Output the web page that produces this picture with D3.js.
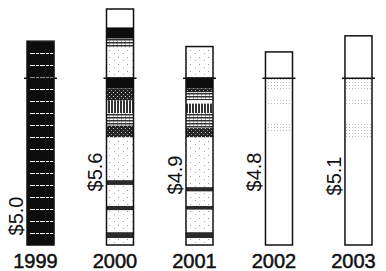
<!DOCTYPE html>
<html>
<head>
<meta charset="utf-8">
<script src="https://cdn.jsdelivr.net/npm/d3@7"></script>
<style>
  html, body { margin: 0; padding: 0; background: #fff; }
  svg { display: block; }
  text { font-family: "Liberation Sans", Arial, sans-serif; fill: #111; }
</style>
</head>
<body>
<div id="chart"></div>
<script>
// values
var years = ['1999', '2000', '2001', '2002', '2003'];
var totals = [5.0, 5.6, 4.9, 4.8, 5.1];
var totalLabels = ['$5.0', '$5.6', '$4.9', '$4.8', '$5.1'];
var markLevel = 4.31;

// band tops (bottom to top) and their texture, per bar
var bands1999 = [5.0];
var kinds1999 = ['stripe'];
var bands2000 = [1.33, 1.44, 1.85, 1.93, 2.32, 2.41, 3.21, 3.43, 3.66, 3.90, 4.12, 4.33, 4.88, 5.05, 5.26, 5.6];
var kinds2000 = ['light', 'dark', 'light', 'dark', 'light', 'dark', 'light', 'noise', 'hatch', 'vstripe', 'noise', 'black', 'light', 'hatch', 'black', 'white'];
var bands2001 = [1.33, 1.44, 1.86, 1.93, 2.20, 2.28, 3.21, 3.38, 3.66, 3.84, 3.90, 4.05, 4.12, 4.33, 4.9];
var kinds2001 = ['light', 'dark', 'light', 'dark', 'light', 'dark', 'light', 'noise', 'hatch', 'vstripe', 'white', 'hatch', 'noise', 'black', 'light'];
var bands2002 = [3.30, 3.48, 3.80, 3.90, 4.10, 4.33, 4.8];
var kinds2002 = ['white', 'dots', 'white', 'dots', 'white', 'dots', 'white'];
var bands2003 = [3.20, 3.48, 3.80, 3.90, 4.10, 4.33, 5.1];
var kinds2003 = ['white', 'dots', 'white', 'dots', 'white', 'dots', 'white'];

var bandTops = [bands1999, bands2000, bands2001, bands2002, bands2003];
var bandKinds = [kinds1999, kinds2000, kinds2001, kinds2002, kinds2003];

var width = 386, height = 271;
var labelMid = [216, 172, 175, 172, 176];

var svg = d3.select('#chart')
    .append('svg')
    .attr('width', width)
    .attr('height', height);

var defs = svg.append('defs');

function pattern(id, w, h, bg, draw) {
    var p = defs.append('pattern')
        .attr('id', id)
        .attr('patternUnits', 'userSpaceOnUse')
        .attr('width', w)
        .attr('height', h);
    p.append('rect').attr('width', w).attr('height', h).attr('fill', bg);
    draw(p);
}

pattern('stripe', 28, 12, '#0d0d0d', function(p) {
    p.append('line').attr('x1', 2).attr('x2', 26).attr('y1', 5.5).attr('y2', 5.5)
        .attr('stroke', '#fff').attr('stroke-width', 1.1).attr('stroke-dasharray', '5,1,3,1');
});
pattern('vstripe', 3, 4, '#fff', function(p) {
    p.append('rect').attr('width', 2).attr('height', 4).attr('fill', '#333');
});
pattern('noise', 4, 4, '#222', function(p) {
    p.append('rect').attr('x', 1).attr('y', 0).attr('width', 1).attr('height', 1).attr('fill', '#ccc');
    p.append('rect').attr('x', 3).attr('y', 2).attr('width', 1).attr('height', 1).attr('fill', '#999');
});
pattern('hatch', 4, 3, '#fff', function(p) {
    p.append('rect').attr('width', 4).attr('height', 1.5).attr('fill', '#333');
    p.append('rect').attr('x', 1).attr('y', 1.5).attr('width', 1).attr('height', 1).attr('fill', '#555');
});
pattern('light', 9, 7, '#fff', function(p) {
    p.append('rect').attr('x', 1).attr('y', 1).attr('width', 1).attr('height', 1).attr('fill', '#999');
    p.append('rect').attr('x', 6).attr('y', 4).attr('width', 1).attr('height', 1).attr('fill', '#aaa');
});
pattern('dots', 3, 3, '#fff', function(p) {
    p.append('rect').attr('x', 1).attr('y', 1).attr('width', 1).attr('height', 1).attr('fill', '#bbb');
});

var fills = {
    stripe: 'url(#stripe)',
    vstripe: 'url(#vstripe)',
    noise: 'url(#noise)',
    hatch: 'url(#hatch)',
    light: 'url(#light)',
    dots: 'url(#dots)',
    black: '#0d0d0d',
    dark: '#2a2a2a',
    white: '#fff'
};

var x = d3.scaleBand()
    .domain(years)
    .range([27, 372])
    .paddingInner(0.66)
    .paddingOuter(0);

var y = d3.scaleLinear()
    .domain([1.2, 5.6])
    .range([245, 9]);

var bars = svg.selectAll('g.bar')
    .data(years.map(function(yr, i) {
        var bottom = 1.2;
        var segs = bandTops[i].map(function(top, j) {
            var s = { from: bottom, to: top, kind: bandKinds[i][j] };
            bottom = top;
            return s;
        });
        return { year: yr, total: totals[i], label: totalLabels[i], segs: segs, mid: labelMid[i] };
    }))
    .enter()
    .append('g')
    .attr('class', 'bar');

bars.selectAll('rect.seg')
    .data(function(d) { return d.segs; })
    .enter()
    .append('rect')
    .attr('class', 'seg')
    .attr('x', function() { return x(d3.select(this.parentNode).datum().year); })
    .attr('width', x.bandwidth())
    .attr('y', function(d) { return y(d.to); })
    .attr('height', function(d) { return y(d.from) - y(d.to); })
    .attr('fill', function(d) { return fills[d.kind]; });

// outline
bars.append('rect')
    .attr('x', function(d) { return x(d.year); })
    .attr('y', function(d) { return y(d.total); })
    .attr('width', x.bandwidth())
    .attr('height', function(d) { return y.range()[0] - y(d.total); })
    .attr('fill', 'none')
    .attr('stroke', '#111')
    .attr('stroke-width', 1.5);

// marker line crossing every bar
bars.append('line')
    .attr('x1', function(d) { return x(d.year) - 3; })
    .attr('x2', function(d) { return x(d.year) + x.bandwidth() + 3; })
    .attr('y1', y(markLevel))
    .attr('y2', y(markLevel))
    .attr('stroke', '#111')
    .attr('stroke-width', 1.6);

// rotated value labels
bars.append('text')
    .attr('transform', function(d) {
        return 'translate(' + (x(d.year) - 4) + ',' + d.mid + ') rotate(-90)';
    })
    .attr('text-anchor', 'middle')
    .attr('font-size', '20px')
    .text(function(d) { return d.label; });

// year labels
bars.append('text')
    .attr('x', function(d) { return x(d.year) + x.bandwidth() / 2 - 5; })
    .attr('y', 268)
    .attr('text-anchor', 'middle')
    .attr('font-size', '20px')
    .attr('stroke', '#111')
    .attr('stroke-width', 0.5)
    .text(function(d) { return d.year; });
</script>
</body>
</html>
